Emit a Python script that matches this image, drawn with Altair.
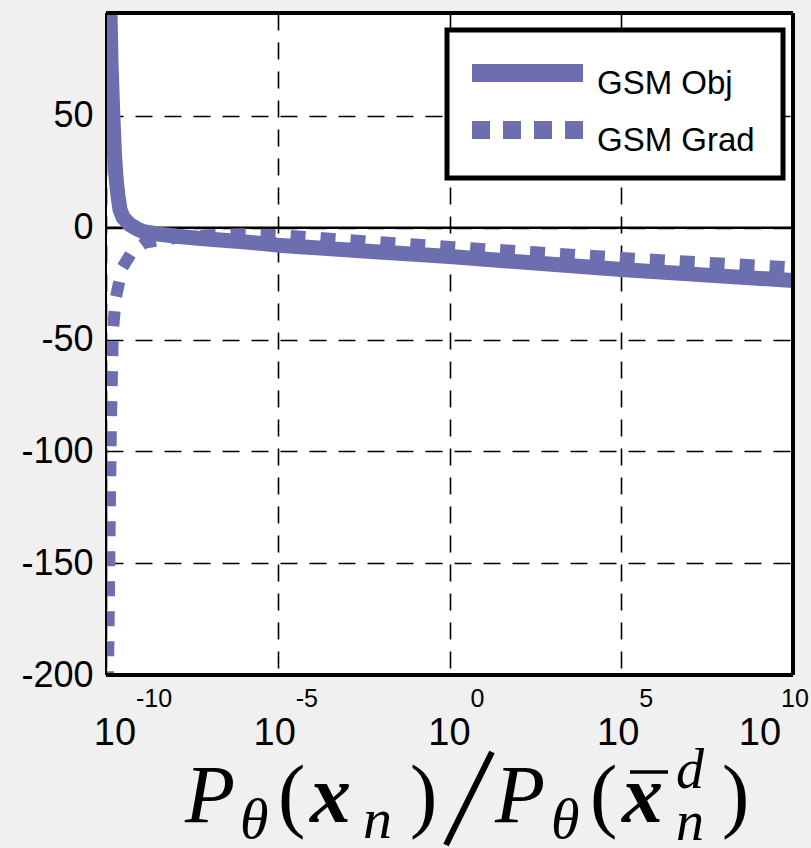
import altair as alt
import pandas as pd

# ---------------- data ----------------
series_names = ["GSM Obj", "GSM Grad"]

obj_log_x = [-9.89, -9.85, -9.80, -9.75, -9.70, -9.65, -9.59, -9.50, -9.30, -9.10,
             -8.90, -8.50, -8.00, -7.25, -6.00, -5.00, -2.50, 0.00, 2.50, 5.00, 7.50, 10.00]
obj_values = [100, 72, 50, 32, 21, 14, 8, 4.5, 1.3, -0.5,
              -1.8, -2.8, -3.7, -4.8, -6.3, -7.8, -10.4, -12.9, -15.8, -18.7, -21.2, -23.6]

grad_log_x = [-9.945, -9.915, -9.885, -9.855, -9.80, -9.71, -9.53, -9.24, -8.87, -8.00,
              -7.00, -6.00, -5.00, -2.50, 0.00, 2.50, 5.00, 7.50, 10.00]
grad_values = [-205, -166, -122, -86, -46, -31, -18, -10.7, -6.7, -4.6,
               -3.4, -2.9, -3.3, -6.0, -8.6, -11.0, -13.5, -15.7, -17.8]

x_ticks = [1e-10, 1e-5, 1.0, 1e5, 1e10]
x_tick_exponents = ["-10", "-5", "0", "5", "10"]
y_ticks = [-200, -150, -100, -50, 0, 50]
y_domain = [-200, 96]

# ---------------- styles ----------------
LINE_COLOR = "#6c6eb0"
SANS = "Liberation Sans"
SERIF = "Liberation Serif"
W, H = 687, 662
base_dx = [9, -3, 0, -3, -33]      # label nudges (style)

df_obj = pd.DataFrame({"x": [10 ** v for v in obj_log_x], "y": obj_values,
                       "series": series_names[0]})
df_grad = pd.DataFrame({"x": [10 ** v for v in grad_log_x], "y": grad_values,
                        "series": series_names[1]})

xscale = alt.Scale(type="log", domain=[x_ticks[0], x_ticks[-1]], nice=False)
yscale = alt.Scale(domain=y_domain, nice=False, zero=False)

grid_dash = [17, 12]
x_axis = alt.Axis(values=x_ticks, labels=False, ticks=False, domain=False, grid=True,
                  gridColor="black", gridDash=grid_dash, gridWidth=1.6, gridOpacity=1,
                  title=None)
y_axis = alt.Axis(values=y_ticks, ticks=False, domain=False, grid=True,
                  gridColor="black", gridDash=grid_dash, gridWidth=1.6, gridOpacity=1,
                  labelFont=SANS, labelFontSize=36, labelColor="black", labelPadding=13,
                  labelExpr="'' + datum.value", title=None)

x_enc = alt.X("x:Q", scale=xscale, axis=x_axis)
y_enc = alt.Y("y:Q", scale=yscale, axis=y_axis)

layers = []

# zero line (solid)
zero_df = pd.DataFrame({"x": [x_ticks[0]], "x2": [x_ticks[-1]], "y": [0]})
layers.append(alt.Chart(zero_df).mark_rule(color="black", strokeWidth=2.5).encode(
    x=x_enc, x2="x2:Q", y=y_enc))

# data lines
layers.append(alt.Chart(df_obj).mark_line(color=LINE_COLOR, strokeWidth=15, clip=True,
                                          strokeCap="butt", strokeJoin="round").encode(
    x=x_enc, y=y_enc))
layers.append(alt.Chart(df_grad).mark_line(color=LINE_COLOR, strokeWidth=12, clip=True,
                                           strokeDash=[15, 15], strokeCap="butt").encode(
    x=x_enc, y=y_enc))

# frame
layers.append(alt.Chart(zero_df).mark_rule(color="black", strokeWidth=4).encode(
    x=alt.value(0), x2=alt.value(W), y=alt.value(0)))
layers.append(alt.Chart(zero_df).mark_rule(color="black", strokeWidth=4).encode(
    x=alt.value(0), x2=alt.value(W), y=alt.value(H)))
layers.append(alt.Chart(zero_df).mark_rule(color="black", strokeWidth=4).encode(
    x=alt.value(W), y=alt.value(0), y2=alt.value(H)))
layers.append(alt.Chart(zero_df).mark_rule(color="black", strokeWidth=2).encode(
    x=alt.value(0), y=alt.value(0), y2=alt.value(H)))

# x tick labels: 10 with superscript exponent
for t, e, dx in zip(x_ticks, x_tick_exponents, base_dx):
    tdf = pd.DataFrame({"x": [t], "base": ["10"], "exp": [e]})
    layers.append(alt.Chart(tdf).mark_text(font=SANS, fontSize=38, color="black",
                                           align="center", baseline="alphabetic",
                                           dx=dx).encode(
        x=x_enc, y=alt.value(732), text="base:N"))
    layers.append(alt.Chart(tdf).mark_text(font=SANS, fontSize=25, color="black",
                                           align="left", baseline="alphabetic",
                                           dx=dx + 21).encode(
        x=x_enc, y=alt.value(694), text="exp:N"))

# legend box
layers.append(alt.Chart(zero_df).mark_rect(fill="white", stroke="black", strokeWidth=5).encode(
    x=alt.value(341), x2=alt.value(677), y=alt.value(17), y2=alt.value(165)))
layers.append(alt.Chart(zero_df).mark_rule(color=LINE_COLOR, strokeWidth=18).encode(
    x=alt.value(366), x2=alt.value(477), y=alt.value(60)))
layers.append(alt.Chart(zero_df).mark_rule(color=LINE_COLOR, strokeWidth=18,
                                           strokeDash=[18, 13]).encode(
    x=alt.value(366), x2=alt.value(477), y=alt.value(117)))
leg_df = pd.DataFrame({"label": series_names, "ypix": [81, 138]})
layers.append(alt.Chart(leg_df).mark_text(font=SANS, fontSize=33, color="black",
                                          align="left", baseline="alphabetic").encode(
    x=alt.value(491), y=alt.Y("ypix:Q", scale=None), text="label:N"))

# x-axis title  P_θ(x_n) / P_θ(x̄_n^d)   (positions in page pixels)
OX, OY = 106, 13
title_parts = [
    # text, x_abs, baseline_abs, size, style, weight
    ("P", 185, 822, 82, "italic", "normal"),
    ("θ", 240, 838, 58, "italic", "normal"),
    ("(", 278, 822, 82, "normal", "normal"),
    ("x", 310, 822, 82, "italic", "bold"),
    ("n", 363, 838, 58, "italic", "normal"),
    (")", 410, 822, 82, "normal", "normal"),
    ("P", 495, 822, 82, "italic", "normal"),
    ("θ", 551, 838, 58, "italic", "normal"),
    ("(", 590, 822, 82, "normal", "normal"),
    ("x", 622, 822, 82, "italic", "bold"),
    ("d", 676, 788, 56, "italic", "normal"),
    ("n", 676, 840, 56, "italic", "normal"),
    (")", 722, 822, 82, "normal", "normal"),
]
for txt, xa, ya, size, style, weight in title_parts:
    pdf = pd.DataFrame({"t": [txt]})
    layers.append(alt.Chart(pdf).mark_text(font=SERIF, fontSize=size, fontStyle=style,
                                           fontWeight=weight, color="black",
                                           align="left", baseline="alphabetic").encode(
        x=alt.value(xa - OX), y=alt.value(ya - OY), text="t:N"))
# big slash and the bar over x
layers.append(alt.Chart(zero_df).mark_rule(color="black", strokeWidth=6).encode(
    x=alt.value(492 - OX), y=alt.value(752 - OY), x2=alt.value(446 - OX), y2=alt.value(845 - OY)))
layers.append(alt.Chart(zero_df).mark_rule(color="black", strokeWidth=3.5).encode(
    x=alt.value(630 - OX), x2=alt.value(668 - OX), y=alt.value(772 - OY)))

chart = alt.layer(*layers).properties(
    width=W, height=H,
    background="#f0f0f0",
    padding={"left": 106, "top": 13, "right": 811 - 106 - W, "bottom": 848 - 13 - H},
    autosize=alt.AutoSizeParams(type="none"),
).configure_view(fill="white", stroke=None)

chart.save("out.html", embed_options={"renderer": "svg", "actions": False})
